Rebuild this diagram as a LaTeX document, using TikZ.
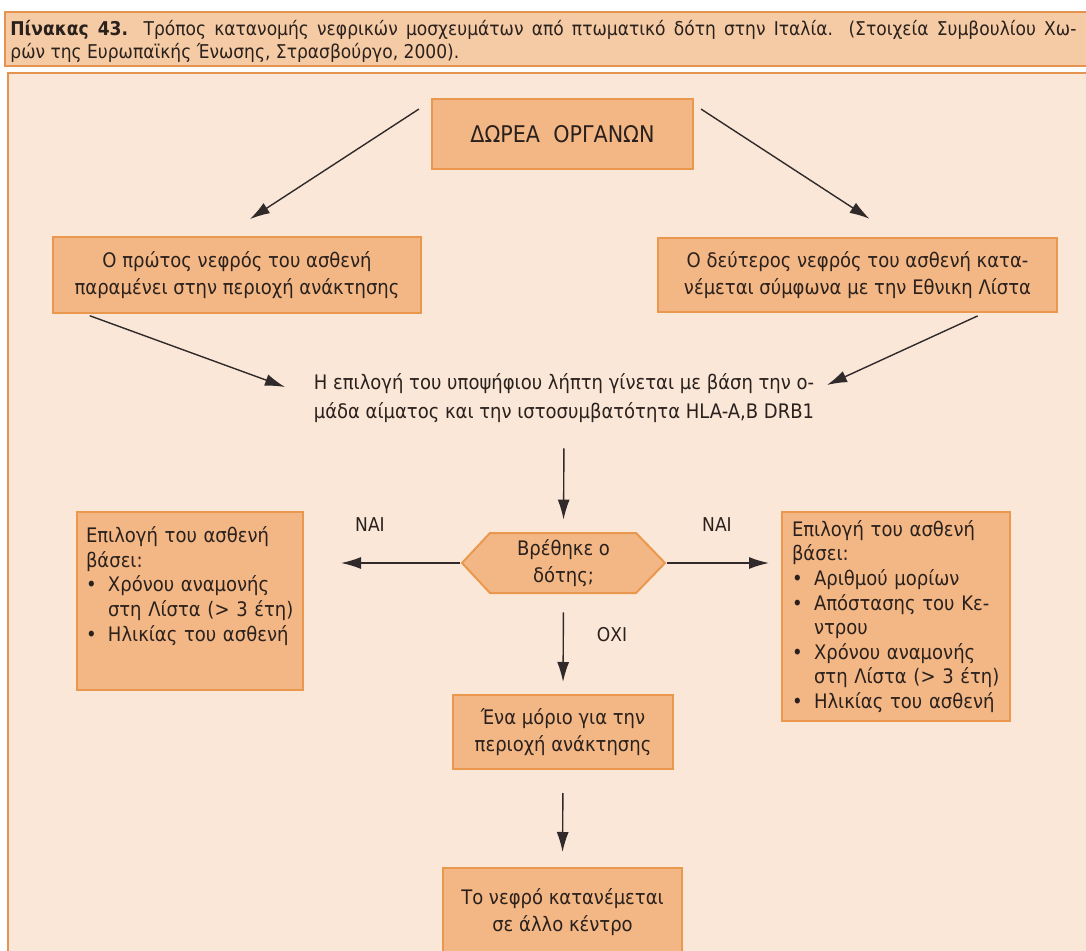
\documentclass[tikz,border=0pt]{standalone}
\usepackage{fontspec}
\setmainfont{DejaVu Sans}[FakeStretch=0.9]
\newfontfamily\hdrfont[FakeStretch=0.9]{DejaVu Sans}
\usetikzlibrary{arrows.meta}
\definecolor{bandfill}{RGB}{245,203,165}
\definecolor{bandline}{RGB}{228,148,80}
\definecolor{panelfill}{RGB}{250,231,216}
\definecolor{boxfill}{RGB}{243,183,134}
\definecolor{boxline}{RGB}{234,152,78}
\definecolor{ink}{RGB}{42,32,28}
\definecolor{arrowink}{RGB}{48,42,42}
\newcommand{\bulitem}[1]{\makebox[11pt][l]{•}#1}
\newcommand{\bulitemS}[1]{\makebox[11pt][l]{•}\makebox[\dimexpr\linewidth-11pt\relax][s]{#1}}
\begin{document}
\begin{tikzpicture}[x=0.5pt,y=-0.5pt,
  box/.style={draw=boxline, fill=boxfill, line width=1pt, inner sep=0pt, text=ink,
    font=\fontsize{10}{13.5}\selectfont, align=center},
  listbox/.style={box, align=left, font=\fontsize{10}{12.3}\selectfont},
  arr/.style={draw=arrowink, line width=0.7pt, -{Latex[length=10pt,width=6pt]}},
  lbl/.style={text=ink, font=\fontsize{9.5}{12}\selectfont, inner sep=0pt},
  hdr/.style={text=ink, font=\hdrfont\fontsize{9.5}{11}\selectfont, inner sep=0pt}]
\useasboundingbox (0,0) rectangle (1086,951);
\fill[white] (0,0) rectangle (1086,951);
% header band
\path[fill=bandfill, draw=bandline, line width=1pt] (5,12) rectangle (1095,66);
\node[hdr, anchor=west] (h1) at (10,30) {\makebox[533pt][s]{\textbf{Πίνακας 43.} Τρόπος κατανομής νεφρικών μοσχευμάτων από πτωματικό δότη στην Ιταλία. (Στοιχεία Συμβουλίου Χω-}};
\node[hdr, anchor=west] (h2) at (10,53) {ρών της Ευρωπαϊκής Ένωσης, Στρασβούργο, 2000).};
% panel
\path[fill=panelfill, draw=bandline, line width=1pt] (8,73) rectangle (1095,960);

% nodes
\node[box, minimum width=130.5pt, minimum height=35pt, font=\fontsize{11.5}{13}\selectfont] (top) at (562.5,134) {ΔΩΡΕΑ\ \ ΟΡΓΑΝΩΝ};
\node[box, minimum width=184pt, minimum height=38pt] (L1) at (237,275) {Ο πρώτος νεφρός του ασθενή\\παραμένει στην περιοχή ανάκτησης};
\node[box, minimum width=199.5pt, minimum height=37pt] (R1) at (857.5,275) {Ο δεύτερος νεφρός του ασθενή κατα-\\νέμεται σύμφωνα με την Εθνικη Λίστα};
\node[lbl, font=\fontsize{10}{14.5}\selectfont, align=center, minimum height=30pt] (mid) at (564,398) {Η επιλογή του υποψήφιου λήπτη γίνεται με βάση την ο-\\μάδα αίματος και την ιστοσυμβατότητα HLA-A,B DRB1};

% decision hexagon
\path[fill=boxfill, draw=boxline, line width=1pt] (462,563) -- (490,533) -- (636,533) -- (665,563) -- (636,593) -- (490,593) -- cycle;
\node[lbl, font=\fontsize{10}{13.5}\selectfont, align=center, minimum width=101.5pt, minimum height=30pt] (dec) at (563.5,563) {Βρέθηκε ο\\δότης;};

\node[listbox, minimum width=113pt, minimum height=89pt, text width=104pt] (L2) at (190,601) {Επιλογή του ασθενή\\βάσει:\\\bulitemS{Χρόνου αναμονής}\\\hspace*{11pt}στη Λίστα (> 3 έτη)\\\bulitem{Ηλικίας του ασθενή}\par\vspace*{15pt}};
\node[listbox, minimum width=114pt, minimum height=104.5pt, text width=104pt] (R2) at (896,616.5) {Επιλογή του ασθενή\\βάσει:\\\bulitem{Αριθμού μορίων}\\\bulitemS{Απόστασης του Κε-}\\\hspace*{11pt}ντρου\\\bulitemS{Χρόνου αναμονής}\\\hspace*{11pt}στη Λίστα (> 3 έτη)\\\bulitem{Ηλικίας του ασθενή}};
\node[box, minimum width=110pt, minimum height=37pt] (M) at (563,732) {Ένα μόριο για την\\περιοχή ανάκτησης};
\node[box, minimum width=119.5pt, minimum height=44pt] (B) at (562.5,912) {Το νεφρό κατανέμεται\\σε άλλο κέντρο};

% labels
\node[lbl] (nai1) at (370,525) {ΝΑΙ};
\node[lbl] (nai2) at (717,525) {ΝΑΙ};
\node[lbl] (oxi) at (612,635) {ΟΧΙ};

% connectors
\draw[arr, shorten <=7.2pt, shorten >=15.5pt] ([yshift=-1.6pt]top.north west) -- ([xshift=-6.5pt]L1.north);
\draw[arr, shorten <=4.2pt, shorten >=16.7pt] ([yshift=-3.25pt]top.north east) -- ([xshift=20pt]R1.north);
\draw[arr, shorten <=2.5pt] ([xshift=16.5pt]L1.south west) -- ([xshift=-139.5pt,yshift=5.5pt]mid.center);
\draw[arr, shorten <=3.5pt] ([xshift=-37pt]R1.south east) -- ([xshift=131.5pt,yshift=6.5pt]mid.center);
\draw[arr, shorten <=10pt, shorten >=6.5pt] (mid.south) -- (dec.north);
\draw[arr, shorten <=1pt, shorten >=18.5pt] (dec.west) -- (dec.west -| L2.east);
\draw[arr, shorten <=1pt, shorten >=6pt] (dec.east) -- (dec.east -| R2.west);
\draw[arr, shorten <=9.5pt, shorten >=6pt] (dec.south) -- (M.north);
\draw[arr, shorten <=11.5pt, shorten >=7.5pt] (M.south) -- (B.north);
\end{tikzpicture}
\end{document}
